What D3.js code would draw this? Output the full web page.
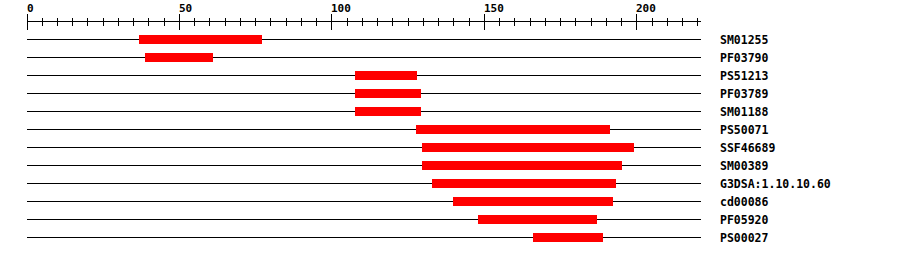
<!DOCTYPE html>
<html>
<head>
<meta charset="utf-8">
<script src="https://cdnjs.cloudflare.com/ajax/libs/d3/7.8.5/d3.min.js"></script>
<style>
    body { margin: 0; background: #fff; }
    svg { display: block; }
</style>
</head>
<body>
<div id="chart"></div>
<script>

const seqLength = 221;

const labels = ['SM01255', 'PF03790', 'PS51213', 'PF03789', 'SM01188', 'PS50071',
    'SSF46689', 'SM00389', 'G3DSA:1.10.10.60', 'cd00086', 'PF05920', 'PS00027'];
const starts = [37, 39, 108, 108, 108, 128, 130, 130, 133, 140, 148.3, 166.2];
const ends = [77, 61, 128, 129.3, 129.3, 191, 199, 195, 193, 192, 187, 189];

const majorTicks = [0, 50, 100, 150, 200];

let
    width = 900,
    height = 256,
    axisY = 21.5,
    rowTop = 39.5,
    rowStep = 18,
    barH = 9,

    svg = d3
    .select('#chart')
    .append('svg')
    .attr('width', width)
    .attr('height', height),

    x = d3.scaleLinear()
    .domain([0, seqLength])
    .range([26.5, 700.5]),

    y = d3.scaleLinear()
    .domain([0, 1])
    .range([rowTop, rowTop + rowStep]);

// ruler along the top
svg.append('line')
    .attr('x1', x(0))
    .attr('x2', x(seqLength))
    .attr('y1', axisY)
    .attr('y2', axisY)
    .style('stroke', '#000')
    .style('shape-rendering', 'crispEdges');

let minor = d3.range(0, seqLength + 1, 5);

svg.selectAll('.tick')
    .data(minor)
    .enter()
    .append('line')
    .attr('class', 'tick')
    .attr('x1', d => Math.round(x(d)) + 0.5)
    .attr('x2', d => Math.round(x(d)) + 0.5)
    .attr('y1', d => d % 50 ? axisY - 4 : axisY - 8)
    .attr('y2', d => d % 50 ? axisY + 4 : axisY + 8)
    .style('stroke', '#000')
    .style('shape-rendering', 'crispEdges');

svg.selectAll('.ticklabel')
    .data(majorTicks)
    .enter()
    .append('text')
    .attr('class', 'ticklabel')
    .attr('x', d => Math.round(x(d)))
    .attr('y', 12)
    .style('font-family', '"DejaVu Sans Mono", monospace')
    .style('font-weight', 'bold')
    .style('font-size', '11px')
    .text(d => d);

// one row per feature
let rows = svg.selectAll('.row')
    .data(labels)
    .enter()
    .append('g')
    .attr('class', 'row');

rows.append('line')
    .attr('x1', x(0))
    .attr('x2', x(seqLength))
    .attr('y1', (d, i) => y(i))
    .attr('y2', (d, i) => y(i))
    .style('stroke', '#000')
    .style('shape-rendering', 'crispEdges');

rows.append('rect')
    .attr('x', (d, i) => Math.floor(x(starts[i])))
    .attr('y', (d, i) => y(i) - barH / 2)
    .attr('width', (d, i) => Math.ceil(x(ends[i])) - Math.floor(x(starts[i])))
    .attr('height', barH)
    .style('fill', '#ff0000')
    .style('shape-rendering', 'crispEdges');

rows.append('text')
    .attr('x', 720)
    .attr('y', (d, i) => y(i) + 4)
    .style('font-family', '"DejaVu Sans Mono", monospace')
    .style('font-weight', 'bold')
    .style('font-size', '11.5px')
    .text(d => d);

</script>
</body>
</html>
